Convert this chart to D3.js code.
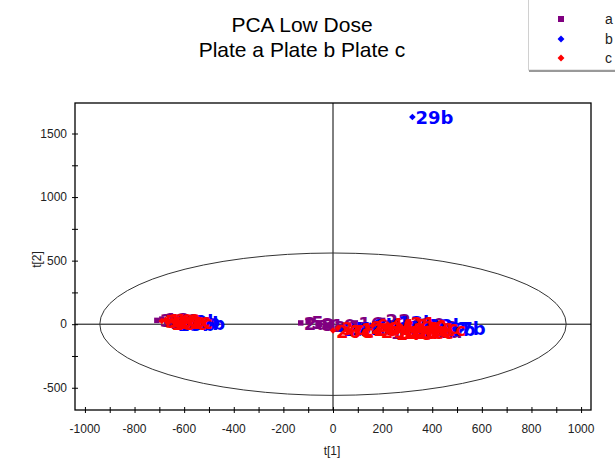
<!DOCTYPE html>
<html><head><meta charset="utf-8">
<script src="https://cdn.jsdelivr.net/npm/d3@7"></script>
<style>body{margin:0;background:#fff}svg{display:block}</style>
</head><body>
<svg id="c" width="615" height="459"></svg>
<script>
// Plate a
const aX=[-710,-690,-670,-650,-630,-130,-100,-60,-20,40,90,150,200,250,300,340,380,410,220];
const aY=[30,40,20,35,25,10,20,0,-10,-30,10,-20,30,10,-40,0,-30,-50,-60];
const aLab=["3a","12a","18a","21a","25a","2a","5a","8a","10a","14a","16a","19a","22a","24a","27a","30a","6a","9a","11a"];
// Plate b
const bX=[-660,-640,-620,-600,30,90,150,200,250,290,330,370,410,450,320];
const bY=[15,5,25,10,-40,-30,-10,-30,20,-20,-50,-10,-40,-30,1630];
const bLab=["4b","15b","20b","28b","2b","6b","9b","11b","13b","17b","19b","22b","25b","27b","29b"];
// Plate c
const cX=[-690,-675,-665,-650,-640,-630,0,20,60,100,140,180,210,240,270,290,310,330,350,370,380,260,300,220,160];
const cY=[25,35,10,30,15,20,-50,-30,-55,-40,-20,-50,-30,-70,-10,-60,-40,-65,-20,-50,-35,-60,10,0,-10];
const cLab=["5c","10c","13c","16c","23c","9c","26c","3c","7c","12c","2c","29c","8c","14c","17c","20c","24c","27c","30c","1c","11c","18c","21c","4c","6c"];

const xTicks=[-1000,-800,-600,-400,-200,0,200,400,600,800,1000];
const yTicks=[-500,0,500,1000,1500];
const series=[
 {name:"a",xs:aX,ys:aY,labs:aLab,color:"#800080",shape:"square"},
 {name:"b",xs:bX,ys:bY,labs:bLab,color:"#0000FF",shape:"diamond"},
 {name:"c",xs:cX,ys:cY,labs:cLab,color:"#FF0000",shape:"diamond"}
];
const ellipse={rx:940,ry:560};

const svg=d3.select("#c");
const L=75,R=591,T=103,B=410;
const x=d3.scaleLinear().domain([-1040,1040]).range([L,R]);
const y=d3.scaleLinear().domain([-675,1740]).range([B,T]);
const fnt="Liberation Sans, Arial, sans-serif";
function marker(sel,shape,size){
  const p=d3.symbol().type(d3.symbolSquare).size(size)();
  return sel.attr("d",p);
}

// titles
svg.append("text").attr("x",302).attr("y",32).attr("text-anchor","middle")
 .style("font-family",fnt).style("font-size","21px").text("PCA Low Dose");
svg.append("text").attr("x",302).attr("y",57).attr("text-anchor","middle")
 .style("font-family",fnt).style("font-size","21px").text("Plate a Plate b Plate c");

// legend
const lg=svg.append("g");
lg.append("rect").attr("x",528.5).attr("y",-2).attr("width",100).attr("height",72).attr("fill","#fff").attr("stroke","#d0d0d0");
lg.append("line").attr("x1",529).attr("x2",615).attr("y1",71).attr("y2",71).attr("stroke","#999").attr("stroke-width",2);
series.forEach((s,i)=>{
  const ly=[19,39,58][i];
  const rot=s.shape==="square"?0:45;
  marker(lg.append("path"),s.shape,s.shape==="square"?36:24)
    .attr("transform",`translate(561,${ly}) rotate(${rot})`).attr("fill",s.color);
  lg.append("text").attr("x",605).attr("y",ly+5).style("font-family",fnt)
    .style("font-size","14px").attr("fill","#222").text(s.name);
});

// axes
const xa=svg.append("g").attr("transform",`translate(0,${B})`)
 .call(d3.axisBottom(x).tickValues(d3.range(-1000,1001,100)).tickSize(3).tickFormat(""));
xa.selectAll(".tick line").attr("y1",-3).attr("y2",3);
xa.select(".domain").remove();
svg.append("g").selectAll("text").data(xTicks).join("text")
 .attr("x",d=>x(d)).attr("y",B+23).attr("text-anchor","middle")
 .style("font-family",fnt).style("font-size","12px").attr("fill","#222").text(d=>d);
const ya=svg.append("g").attr("transform",`translate(${L},0)`)
 .call(d3.axisLeft(y).tickValues(d3.range(-500,1501,250)).tickSize(3).tickFormat(""));
ya.selectAll(".tick line").attr("x1",-3).attr("x2",3);
ya.select(".domain").remove();
svg.append("g").selectAll("text").data(yTicks).join("text")
 .attr("x",L-8).attr("y",d=>y(d)+4).attr("text-anchor","end")
 .style("font-family",fnt).style("font-size","12px").attr("fill","#222").text(d=>d);
svg.append("rect").attr("x",L).attr("y",T).attr("width",R-L).attr("height",B-T)
 .attr("fill","none").attr("stroke","#000").attr("stroke-width",1.3);
svg.append("text").attr("x",332).attr("y",455).attr("text-anchor","middle")
 .style("font-family",fnt).style("font-size","12px").attr("fill","#222").text("t[1]");
svg.append("text").attr("transform",`translate(41,${(T+B)/2+3}) rotate(-90)`).attr("text-anchor","middle")
 .style("font-family",fnt).style("font-size","12px").attr("fill","#222").text("t[2]");

// zero lines
svg.append("line").attr("x1",L).attr("x2",R).attr("y1",y(0)).attr("y2",y(0)).attr("stroke","#000");
svg.append("line").attr("x1",x(0)).attr("x2",x(0)).attr("y1",T).attr("y2",B).attr("stroke","#000");

// ellipse
svg.append("ellipse").attr("cx",x(0)).attr("cy",y(0))
 .attr("rx",x(ellipse.rx)-x(0)).attr("ry",y(0)-y(ellipse.ry))
 .attr("fill","none").attr("stroke","#333").attr("stroke-width",1);

// points
series.forEach(s=>{
  const g=svg.append("g");
  s.xs.forEach((vx,i)=>{
    const px=x(vx),py=y(s.ys[i]);
    const rot=s.shape==="square"?0:45;
    marker(g.append("path"),s.shape,s.shape==="square"?30:22)
     .attr("transform",`translate(${px},${py}) rotate(${rot})`).attr("fill",s.color);
    g.append("text").attr("x",px+3).attr("y",py+7)
     .style("font-family","DejaVu Sans, sans-serif").style("font-weight","bold").style("font-size","18px")
     .attr("fill",s.color).text(s.labs[i]);
  });
});
</script>
</body></html>
